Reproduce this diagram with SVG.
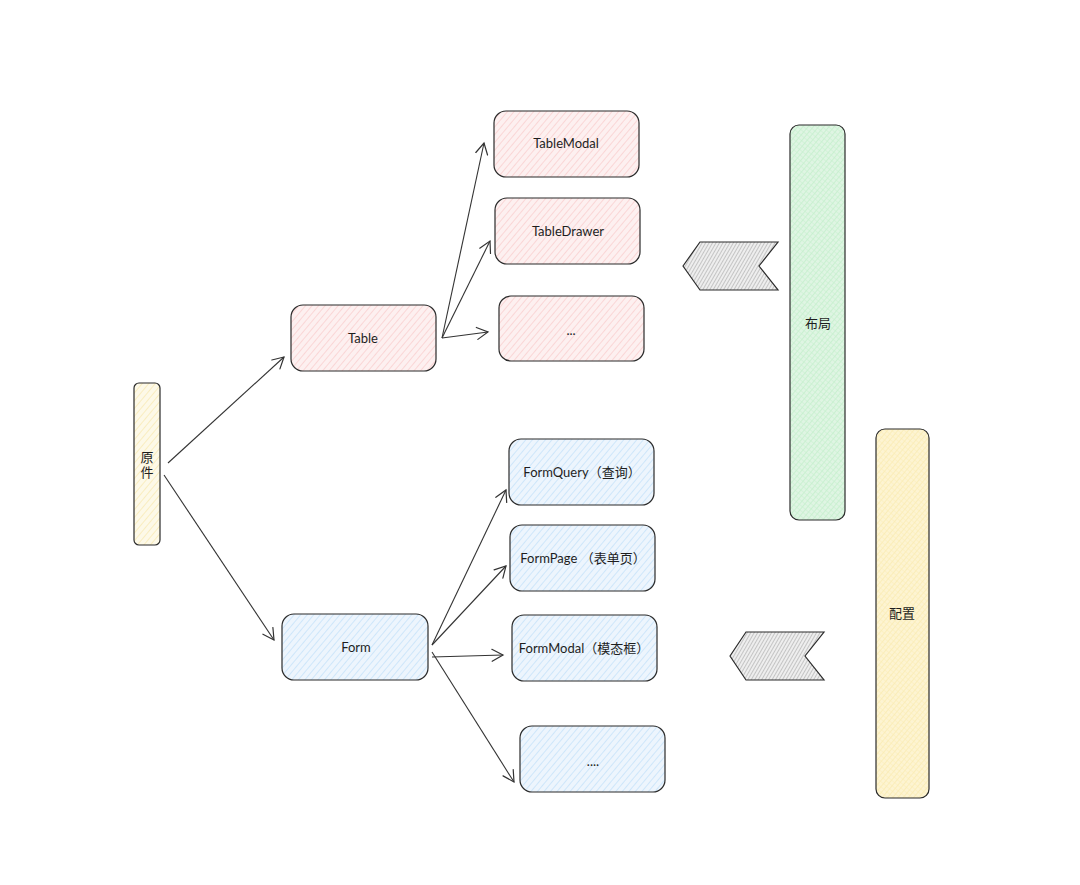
<svg xmlns="http://www.w3.org/2000/svg" width="1080" height="885" viewBox="0 0 1080 885">
<defs>
<pattern id="hPink" patternUnits="userSpaceOnUse" width="5" height="5" patternTransform="rotate(40)">
<rect width="5" height="5" fill="#fdf0f0"/><line x1="0" y1="0" x2="0" y2="5" stroke="#f9c5c5" stroke-width="1.2"/></pattern>
<pattern id="hBlue" patternUnits="userSpaceOnUse" width="5" height="5" patternTransform="rotate(40)">
<rect width="5" height="5" fill="#edf5fd"/><line x1="0" y1="0" x2="0" y2="5" stroke="#b9dcf9" stroke-width="1.2"/></pattern>
<pattern id="hYellow" patternUnits="userSpaceOnUse" width="5" height="5" patternTransform="rotate(40)">
<rect width="5" height="5" fill="#fdf9e8"/><line x1="0" y1="0" x2="0" y2="5" stroke="#f7e6a6" stroke-width="1.2"/></pattern>
<pattern id="xGreen" patternUnits="userSpaceOnUse" width="4" height="4" patternTransform="rotate(40)">
<rect width="4" height="4" fill="#dff5e3"/><line x1="0" y1="0" x2="0" y2="4" stroke="#b6ecc0" stroke-width="1"/><line x1="0" y1="0" x2="4" y2="0" stroke="#c6f0cd" stroke-width="1"/></pattern>
<pattern id="xYellow" patternUnits="userSpaceOnUse" width="4" height="4" patternTransform="rotate(40)">
<rect width="4" height="4" fill="#fdf4d2"/><line x1="0" y1="0" x2="0" y2="4" stroke="#f8e6a0" stroke-width="1"/><line x1="0" y1="0" x2="4" y2="0" stroke="#fbecb6" stroke-width="1"/></pattern>
<pattern id="hGray" patternUnits="userSpaceOnUse" width="3" height="3" patternTransform="rotate(30)">
<rect width="3" height="3" fill="#eeeeee"/><line x1="0" y1="0" x2="0" y2="3" stroke="#9a9a9a" stroke-width="1"/></pattern>
<marker id="arr" markerWidth="14" markerHeight="14" refX="12" refY="7" orient="auto" markerUnits="userSpaceOnUse">
<path d="M1,1 L12,7 L1,13" fill="none" stroke="#333" stroke-width="1.2" stroke-linecap="round"/></marker>
</defs>
<style>
.box{stroke:#2b2b2b;stroke-width:1.2}
.t{font-family:"Lato","Liberation Sans","Noto Sans CJK SC",sans-serif;font-size:13px;fill:#1e1e1e;text-anchor:middle;dominant-baseline:central}
.c{stroke:#333;stroke-width:1.1;fill:none;marker-end:url(#arr)}
</style>
<rect width="1080" height="885" fill="#ffffff"/>
<g id="yuanjian">
<rect class="box" x="134" y="383" width="26" height="162" rx="5" fill="url(#hYellow)"/>
<text class="t" x="147" y="457">原</text>
<text class="t" x="147" y="472">件</text>
</g>
<g id="table">
<rect class="box" x="291" y="305" width="145" height="66" rx="12" fill="url(#hPink)"/>
<text class="t" x="363" y="338">Table</text>
</g>
<g id="form">
<rect class="box" x="282" y="614" width="146" height="66" rx="12" fill="url(#hBlue)"/>
<text class="t" x="356" y="647">Form</text>
</g>
<g id="tablemodal">
<rect class="box" x="494" y="111" width="145" height="66" rx="12" fill="url(#hPink)"/>
<text class="t" x="566" y="143">TableModal</text>
</g>
<g id="tabledrawer">
<rect class="box" x="495" y="198" width="145" height="66" rx="12" fill="url(#hPink)"/>
<text class="t" x="568" y="231">TableDrawer</text>
</g>
<g id="tablemore">
<rect class="box" x="499" y="296" width="145" height="65" rx="12" fill="url(#hPink)"/>
<text class="t" x="571" y="330">...</text>
</g>
<g id="formquery">
<rect class="box" x="509" y="439" width="145" height="66" rx="12" fill="url(#hBlue)"/>
<text class="t" x="582" y="472">FormQuery（查询）</text>
</g>
<g id="formpage">
<rect class="box" x="510" y="525" width="145" height="66" rx="12" fill="url(#hBlue)"/>
<text class="t" x="583" y="558" xml:space="preserve">FormPage （表单页）</text>
</g>
<g id="formmodal">
<rect class="box" x="512" y="615" width="145" height="66" rx="12" fill="url(#hBlue)"/>
<text class="t" x="584" y="648">FormModal（模态框）</text>
</g>
<g id="formmore">
<rect class="box" x="520" y="726" width="145" height="66" rx="12" fill="url(#hBlue)"/>
<text class="t" x="593" y="761">....</text>
</g>
<g id="buju">
<rect class="box" x="790" y="125" width="55" height="395" rx="9" fill="url(#xGreen)"/>
<text class="t" x="818" y="323">布局</text>
</g>
<g id="peizhi">
<rect class="box" x="876" y="429" width="53" height="369" rx="9" fill="url(#xYellow)"/>
<text class="t" x="902" y="613">配置</text>
</g>
<g id="chevron1">
<polygon class="box" points="683,266 700,242 778,242 759,266 778,290 700,290" fill="url(#hGray)"/>
</g>
<g id="chevron2">
<polygon class="box" points="730,656 746,632 824,632 805,656 824,680 746,680" fill="url(#hGray)"/>
</g>
<g id="connectors">
<line class="c" x1="168" y1="463" x2="284" y2="357"/>
<line class="c" x1="164" y1="475" x2="274" y2="640"/>
<line class="c" x1="442" y1="338" x2="484" y2="143"/>
<line class="c" x1="442" y1="338" x2="490" y2="241"/>
<line class="c" x1="442" y1="338" x2="488" y2="332"/>
<line class="c" x1="432" y1="645" x2="506" y2="490"/>
<line class="c" x1="432" y1="645" x2="506" y2="566"/>
<line class="c" x1="432" y1="657" x2="503" y2="655"/>
<line class="c" x1="432" y1="652" x2="514" y2="782"/>
</g>
</svg>
